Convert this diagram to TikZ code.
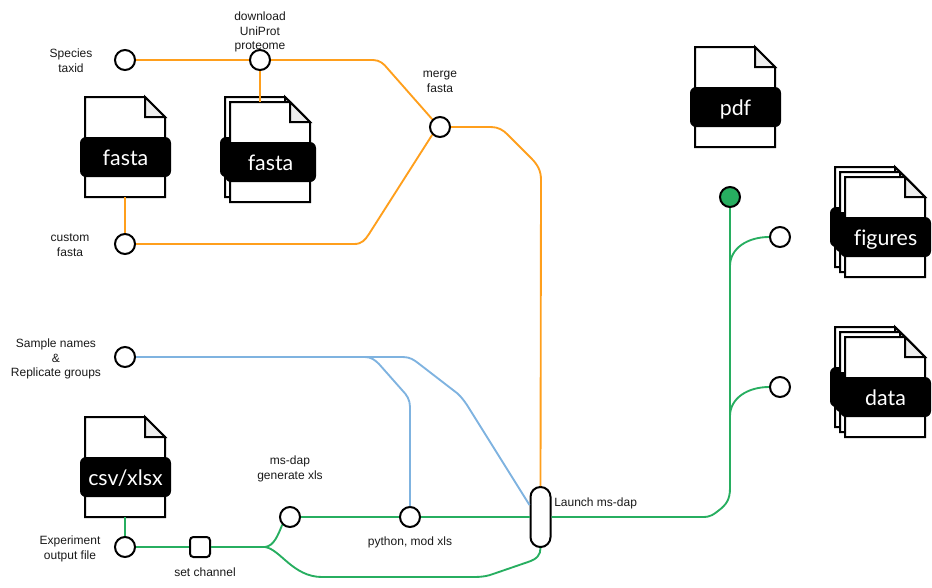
\documentclass[tikz,border=0pt]{standalone}
\usepackage{fontspec}
\setmainfont{Liberation Sans}
\newfontfamily\tagfont[Ligatures=NoCommon]{Lato}
\definecolor{linkorange}{HTML}{FF9F1C}
\definecolor{linkgreen}{HTML}{27AE60}
\definecolor{linkblue}{HTML}{7FB3E0}
\definecolor{foldgrey}{HTML}{EEEEEE}
\tikzset{
  stepnode/.style={circle,draw=black,line width=1.5pt,fill=white,minimum size=15pt,inner sep=0pt},
  squarenode/.style={rectangle,rounded corners=2.5pt,draw=black,line width=1.5pt,fill=white,minimum size=15pt,inner sep=0pt},
  pillnode/.style={rectangle,rounded corners=7.4pt,draw=black,line width=1.5pt,fill=white,minimum width=15pt,minimum height=45pt,inner sep=0pt},
  pagenode/.style={rectangle,minimum width=60pt,minimum height=75pt,inner sep=0pt,outer sep=0pt},
  pageline/.style={draw=black,line width=1.5pt,fill=white,line join=miter},
  foldline/.style={draw=black,line width=1.5pt,fill=foldgrey},
  tagnode/.style={rectangle,rounded corners=4.5pt,fill=black,text=white,minimum width=68.25pt,minimum height=30pt,inner sep=0pt,text height=12.2pt,text depth=0pt,font=\tagfont\fontsize{16}{18}\selectfont},
  lbl/.style={align=center,font=\fontsize{9}{11.1}\selectfont,text=black!90,inner sep=0pt},
  orangelink/.style={draw=linkorange,line width=1.4pt},
  greenlink/.style={draw=linkgreen,line width=1.4pt},
  bluelink/.style={draw=linkblue,line width=1.4pt},
}
% #1 name, #2 left, #3 top, #4 tag text
\newcommand{\docpage}[4]{%
  \node[pagenode] (#1) at (#2+40,#3+50) {};
  \path[pageline] (#1.north west) -- ++(60,0) -- ++(20,20) -- (#1.south east) -- (#1.south west) -- cycle;
  \path[foldline] (#1.north west) ++(60,0) -- ++(20,20) -- ++(-20,0) -- cycle;
  \node[tagnode] (#1tag) at (#2+40.5,#3+60) {#4};
}
\begin{document}
\begin{tikzpicture}[x=0.75pt,y=-0.75pt]
\useasboundingbox (0,0) rectangle (932,587);
% documents
\docpage{fastaone}{85}{97}{fasta}
\docpage{fastaback}{225}{97}{}
\docpage{fastafront}{230}{102}{fasta}
\docpage{csvdoc}{85}{417}{csv/xlsx}
\docpage{pdfdoc}{695}{47}{pdf}
\docpage{figa}{835}{167}{}
\docpage{figb}{840}{172}{}
\docpage{figc}{845}{177}{figures}
\docpage{dataa}{835}{327}{}
\docpage{datab}{840}{332}{}
\docpage{datac}{845}{337}{data}
% step nodes
\node[stepnode] (species) at (125,60) {};
\node[stepnode] (download) at (260,60) {};
\node[stepnode] (merge) at (440,127) {};
\node[stepnode] (custom) at (125,244) {};
\node[stepnode] (sample) at (125,357) {};
\node[stepnode] (experiment) at (125,547) {};
\node[squarenode] (setchannel) at (200,547) {};
\node[stepnode] (generate) at (290,517) {};
\node[stepnode] (python) at (410,517) {};
\node[pillnode] (launch) at (540.5,517) {};
\node[stepnode,fill=linkgreen] (report) at (730,197) {};
\node[stepnode] (figout) at (780,237) {};
\node[stepnode] (dataout) at (780,387) {};
% branch points
\coordinate (split) at (265,547);
\coordinate (trunka) at (730,266);
\coordinate (trunkb) at (730,416);
% orange
\draw[orangelink] (species) -- (download);
\draw[orangelink] (download.south) -- (download.south |- fastafront.north);
\draw[orangelink] (fastaone.south) -- (custom);
\draw[orangelink] (download.east) -- (373,60) .. controls (380,60) and (384,64) .. (388,69) -- (merge.north west);
\draw[orangelink] (custom.east) -- (354,244) .. controls (362,244) and (365,240) .. (369,234) -- (merge.south west);
\draw[orangelink] (merge.east) -- (491,127) .. controls (498,127) and (503,130) .. (507,134) -- (531,158) .. controls (538,165) and (541,171) .. (541,180) -- (launch.north);
% blue
\draw[bluelink] (sample.east) -- (365,357) .. controls (371,357) and (375,360) .. (379,364) -- (402,390) .. controls (407,395) and (410,400) .. (410,407) -- (python.north);
\draw[bluelink] (sample.east) -- (403,357) .. controls (410,357) and (414,360) .. (418,363) -- (453,390) .. controls (459,394) and (463,399) .. (467,405) -- (launch.west |- 0,505);
% green
\draw[greenlink] (csvdoc.south) -- (experiment);
\draw[greenlink] (experiment) -- (setchannel);
\draw[greenlink] (setchannel) -- (split);
\draw[greenlink] (split) .. controls (274,546) and (278,535) .. (generate.south west);
\draw[greenlink] (split) .. controls (280,549) and (293,577) .. (322,577) -- (473,577) .. controls (482,577) and (488,576) .. (493,574) -- (528,562) .. controls (537,559) and (540.5,555) .. (launch.south);
\draw[greenlink] (generate) -- (python);
\draw[greenlink] (python) -- (launch);
\draw[greenlink] (launch) -- (703,517) .. controls (711,517) and (714,514) .. (718,511) .. controls (726,505) and (730,500) .. (730,488) -- (report);
\draw[greenlink] (trunka) .. controls (730,248) and (748,237) .. (figout.west);
\draw[greenlink] (trunkb) .. controls (730,398) and (748,387) .. (dataout.west);
% labels
\node[lbl] (lspecies) at (71,60.5) {Species\\taxid};
\node[lbl] (ldownload) at (260,32) {download\\UniProt\\proteome};
\node[lbl] (lmerge) at (440,81.5) {merge\\fasta};
\node[lbl] (lcustom) at (70,245.5) {custom\\fasta};
\node[lbl] (lsample) at (56,359) {Sample names\\\&\\Replicate groups};
\node[lbl] (lexperiment) at (70,548.5) {Experiment\\output file};
\node[lbl] (lset) at (205,572.5) {set channel};
\node[lbl] (lgenerate) at (290,468.5) {ms-dap\\generate xls};
\node[lbl] (lpython) at (410,542) {python, mod xls};
\node[lbl,anchor=west] (llaunch) at (554,503) {Launch ms-dap};
\end{tikzpicture}
\end{document}
